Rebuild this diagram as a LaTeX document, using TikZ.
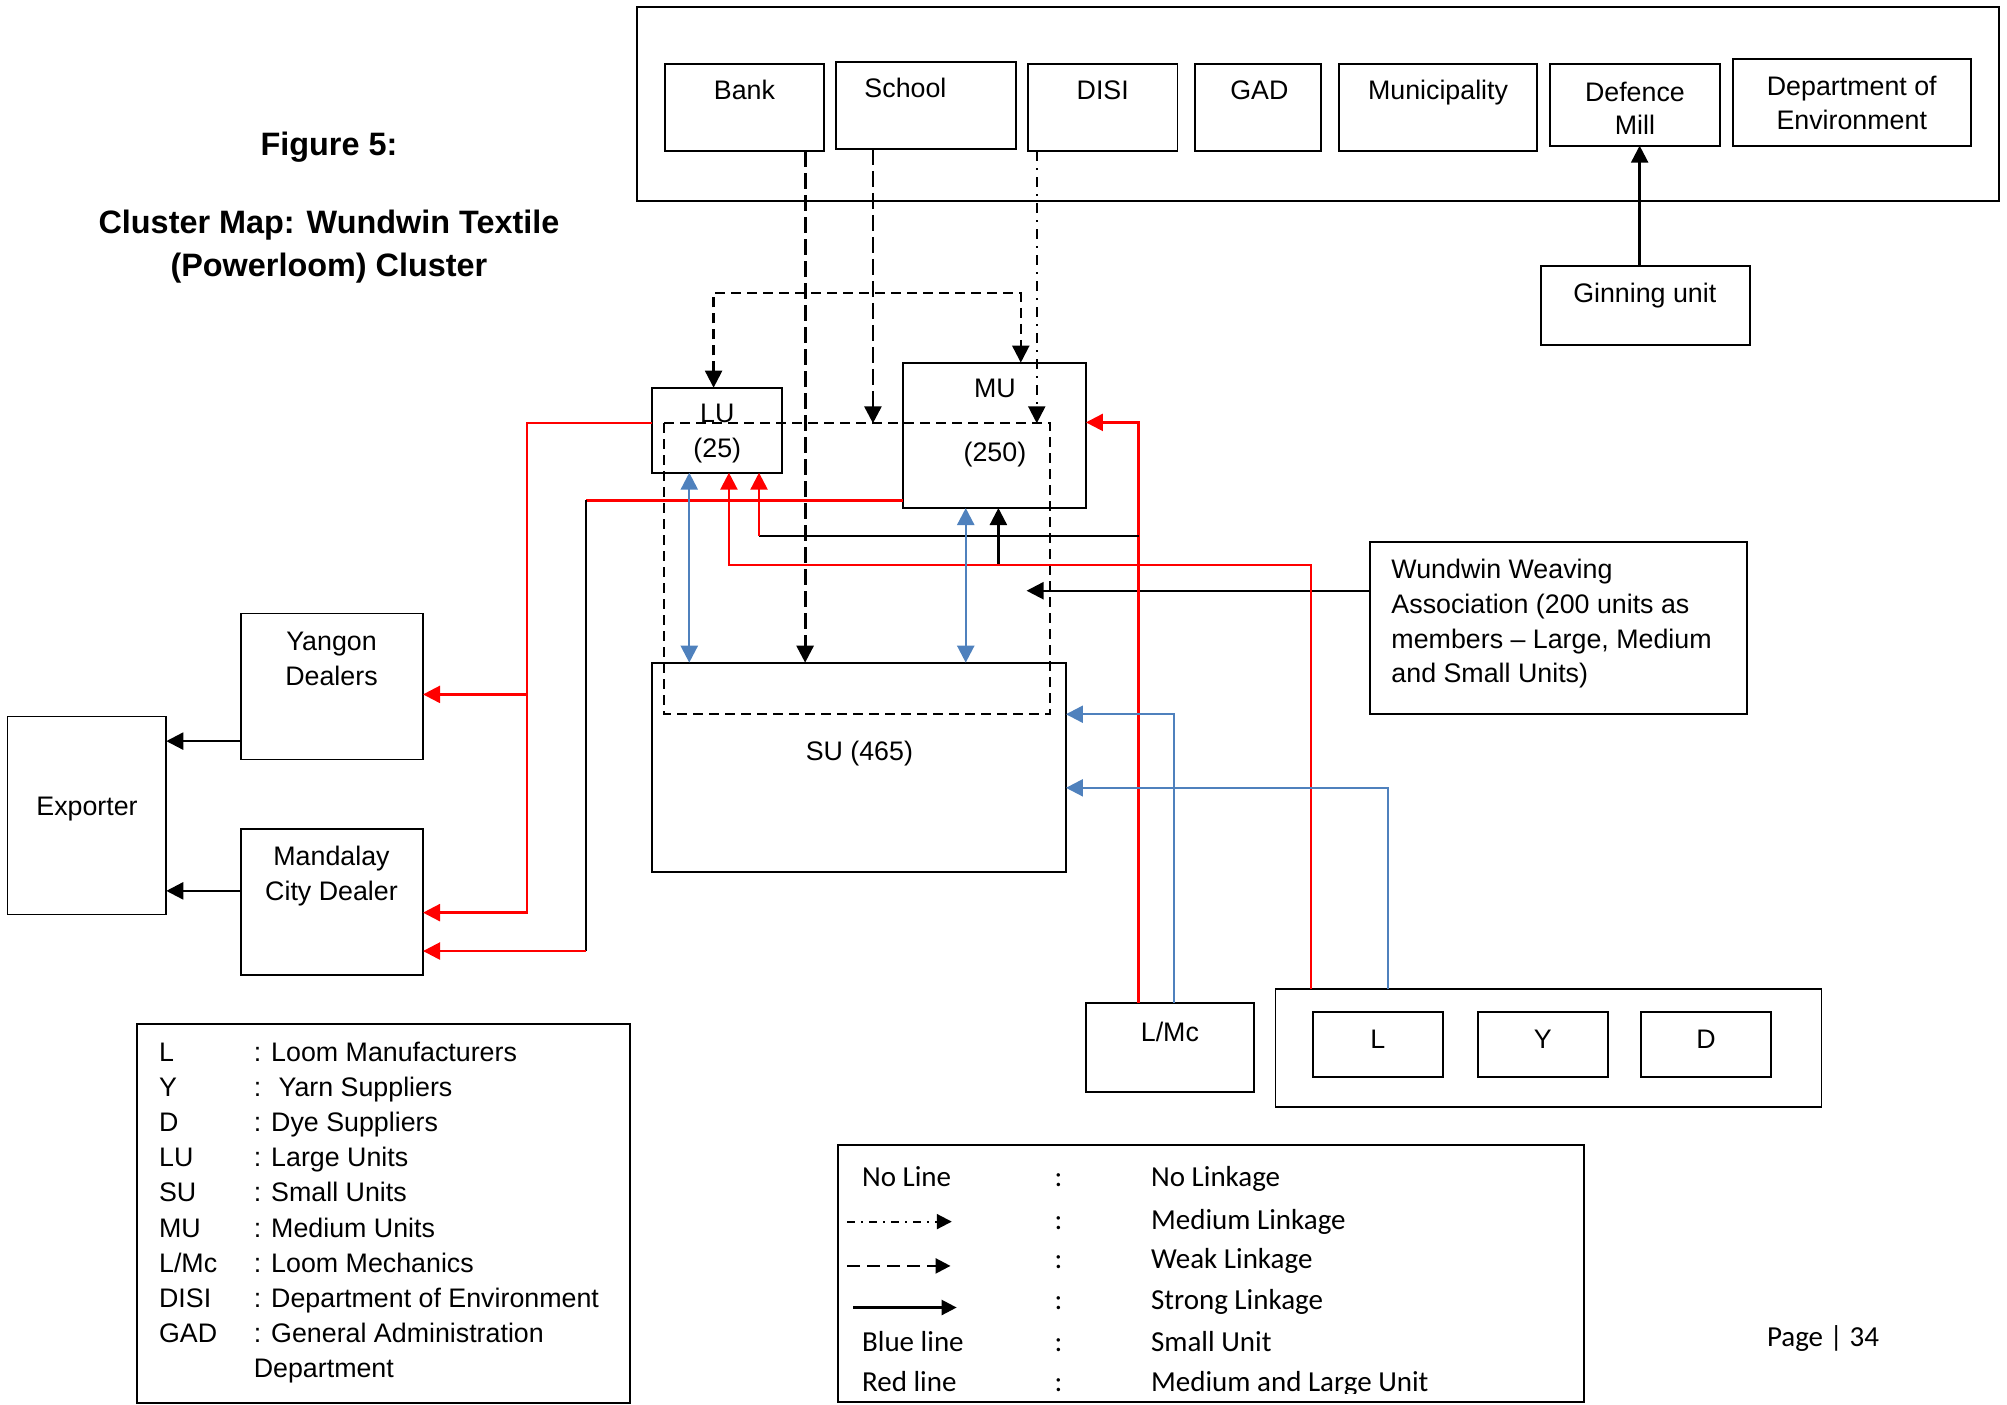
\documentclass[tikz,border=0pt]{standalone}
\usepackage{fontspec}
\setmainfont{Liberation Sans}
\newfontfamily\calibrifam{Carlito}
\usetikzlibrary{arrows.meta,fit}

\definecolor{wordblue}{RGB}{79,129,189}
\newcommand\fa{\fontsize{13.4pt}{16pt}\selectfont}
\newcommand\fc{\calibrifam\fontsize{14.5pt}{17pt}\selectfont}
\newcommand\ftitle{\bfseries\fontsize{16.2pt}{19pt}\selectfont}

\tikzset{
  box/.style={draw, line width=0.9pt, inner sep=0pt, outer sep=0pt},
  ta/.style={inner sep=0pt, text height=9.6pt, text depth=0pt, font=\fa},
  tc/.style={inner sep=0pt, text height=9.4pt, text depth=0pt, font=\fc},
  tt/.style={inner sep=0pt, text height=11.6pt, text depth=0pt, font=\ftitle},
  strong/.style={line width=1.2pt},
  thinblack/.style={line width=0.9pt},
  weak/.style={line width=1.4pt, dash pattern=on 8pt off 3pt},
  weakthin/.style={line width=1.1pt, dash pattern=on 5pt off 3pt},
  medium/.style={line width=1.1pt, dash pattern=on 5pt off 3.5pt on 1pt off 3.5pt},
  redl/.style={draw=red, line width=1.2pt},
  bluel/.style={draw=wordblue, line width=1.2pt},
}

\begin{document}
\begin{tikzpicture}[x=0.64pt, y=-0.64pt, >={Triangle[length=8.5pt,width=8.5pt]}]
\useasboundingbox (0,0) rectangle (1568,1097);

% ---------- title ----------
\node[tt] (title1) at (257,112.5) {Figure 5:};
\node[tt] (title2) at (257,173.5) {Cluster Map: Wundwin Textile};
\node[tt] (title3) at (257,207) {(Powerloom) Cluster};

% ---------- institutions ----------
\node[box, line width=1.1pt, fit={(497.7,5.2) (1562,157)}] (inst) {};
\node[box, fit={(519.7,50) (643.5,118)}] (bank) {};
\node[box, fit={(653.2,48.2) (793.5,116.4)}] (school) {};
\node[box, fit={(803,50) (920,118)}] (disi) {};
\node[box, fit={(933.7,50) (1032,118)}] (gad) {};
\node[box, fit={(1045.8,50) (1200.5,118)}] (muni) {};
\node[box, fit={(1210.9,50) (1343.6,113.8)}] (defence) {};
\node[box, fit={(1354,45.8) (1539.6,114)}] (doe) {};
\node[ta] (bank-t) at (581.6,70.3) {Bank};
\node[ta] (school-t) at (707.4,69) {School};
\node[ta] (disi-t) at (861.5,70.3) {DISI};
\node[ta] (gad-t) at (983.9,70.3) {GAD};
\node[ta] (muni-t) at (1123.5,70.3) {Municipality};
\node[ta] (defence-t1) at (1277.3,71.6) {Defence};
\node[ta] (defence-t2) at (1277.3,97.7) {Mill};
\node[ta] (doe-t1) at (1446.7,67.2) {Department of};
\node[ta] (doe-t2) at (1446.7,94) {Environment};

\node[box, fit={(1204,207.6) (1367,269.5)}] (ginning) {};
\node[ta] (ginning-t) at (1285,229.2) {Ginning unit};

% ---------- producing units ----------
\node[box, fit={(509.4,302.9) (611,369.3)}] (lu) {};
\node[box, fit={(705.7,283.3) (848.4,396.9)}] (mu) {};
\node[box, fit={(509.4,517.7) (832.8,681)}] (su) {};
\node[box, draw=none, fit={(519,330.7) (820.3,558)}] (dashbox) {};
\draw[weakthin] (dashbox.north west) rectangle (dashbox.south east);
\node[ta] (lu-t1) at (560.4,322.4) {LU};
\node[ta] (lu-t2) at (560.4,349.7) {(25)};
\node[ta] (mu-t1) at (777.3,303.4) {MU};
\node[ta] (mu-t2) at (777.3,352.9) {(250)};
\node[ta] (su-t) at (671.4,586.5) {SU (465)};

% ---------- association ----------
\node[box, fit={(1070.5,423.7) (1364.6,558)}] (wwa) {};
\node[ta, anchor=west] (wwa-t1) at (1086.8,444.8) {Wundwin Weaving};
\node[ta, anchor=west] (wwa-t2) at (1086.8,472) {Association (200 units as};
\node[ta, anchor=west] (wwa-t3) at (1086.8,499.5) {members -- Large, Medium};
\node[ta, anchor=west] (wwa-t4) at (1086.8,526) {and Small Units)};

% ---------- markets ----------
\node[box, fit={(188,479.3) (330.5,593.4)}] (yangon) {};
\node[box, fit={(188,647.5) (330.5,761.7)}] (mandalay) {};
\node[box, fit={(5.9,559.8) (129.9,714.5)}] (exporter) {};
\node[ta] (yangon-t1) at (259,501) {Yangon};
\node[ta] (yangon-t2) at (259,528) {Dealers};
\node[ta] (mandalay-t1) at (259,669) {Mandalay};
\node[ta] (mandalay-t2) at (259,696) {City Dealer};
\node[ta] (exporter-t) at (68,629.5) {Exporter};

% ---------- suppliers ----------
\node[box, fit={(848.2,783.9) (979.7,852.9)}] (lmc) {};
\node[ta] (lmc-t) at (914,806) {L/Mc};
\node[box, fit={(996.5,772.9) (1423,864.6)}] (lydbox) {};
\node[box, fit={(1025.6,790.4) (1127.3,841.2)}] (lbox) {};
\node[box, fit={(1154.4,790.4) (1256.4,841.2)}] (ybox) {};
\node[box, fit={(1281.9,790.4) (1383.9,841.2)}] (dbox) {};
\node[ta] (lbox-t) at (1076.5,812) {L};
\node[ta] (ybox-t) at (1205.4,812) {Y};
\node[ta] (dbox-t) at (1332.9,812) {D};

% ---------- routing points ----------
\coordinate (xBank) at (629,0);
\coordinate (xSchool) at (682,0);
\coordinate (xDisi) at (810,0);
\coordinate (brL) at (557.5,229);
\coordinate (brR) at (797.5,229);
\coordinate (xGin) at (1281,0);
\coordinate (rA) at (411.5,330.5);
\coordinate (rB) at (411.5,713);
\coordinate (rC) at (411.5,542.5);
\coordinate (mA) at (458,391);
\coordinate (mB) at (458,743);
\coordinate (rD) at (889.5,330);
\coordinate (rE) at (1024,441.5);
\coordinate (rF) at (569.5,441.5);
\coordinate (kG) at (889.5,418.5);
\coordinate (kH) at (593,418.5);
\coordinate (kS) at (780,441.5);
\coordinate (kW) at (802,461.5);
\coordinate (b1) at (538.5,0);
\coordinate (b2) at (754.5,0);
\coordinate (b3) at (917,558);
\coordinate (b4) at (1084.5,615.5);
\coordinate (yY) at (0,579);
\coordinate (yM) at (0,696);

% ---------- weak and medium linkages ----------
\draw[weak,->] (bank.south -| xBank) -- (su.north -| xBank);
\draw[weak,->] (school.south -| xSchool) -- (dashbox.north -| xSchool);
\draw[medium,->] (disi.south -| xDisi) -- (dashbox.north -| xDisi);
\draw[weakthin,<->] (lu.north -| brL) -- (brL) -- (brR) -- (mu.north -| brR);

% ---------- strong linkages ----------
\draw[strong,->] (ginning.north -| xGin) -- (defence.south -| xGin);
\draw[strong,->] (wwa.west |- kW) -- (kW);
\draw[strong,->] (kS) -- (mu.south -| kS);
\draw[strong,->] (yangon.west |- yY) -- (exporter.east |- yY);
\draw[strong,->] (mandalay.west |- yM) -- (exporter.east |- yM);

% ---------- medium and large units (red) ----------
\draw[redl,->] (lu.west |- rA) -- (rA) -- (rB) -- (mandalay.east |- rB);
\draw[redl,->] (rC) -- (yangon.east |- rC);
\draw[redl] (mu.west |- mA) -- (mA);
\draw[thinblack] (mA) -- (mB);
\draw[redl,->] (mB) -- (mandalay.east |- mB);
\draw[redl,->] (lmc.north -| rD) -- (rD) -- (mu.east |- rD);
\draw[redl,->] (lydbox.north -| rE) -- (rE) -- (rF) -- (lu.south -| rF);
\draw[thinblack] (kG) -- (kH);
\draw[redl,->] (kH) -- (lu.south -| kH);

% ---------- small units (blue) ----------
\draw[bluel,<->] (lu.south -| b1) -- (su.north -| b1);
\draw[bluel,<->] (mu.south -| b2) -- (su.north -| b2);
\draw[bluel,->] (lmc.north -| b3) -- (b3) -- (su.east |- b3);
\draw[bluel,->] (lydbox.north -| b4) -- (b4) -- (su.east |- b4);

% ---------- abbreviations ----------
\node[box, fit={(106.8,800) (492,1095.9)}] (legL) {};
\foreach \k/\ab/\desc in {0/L/: Loom Manufacturers, 1/Y/: ~Yarn Suppliers,
    2/D/: Dye Suppliers, 3/LU/: Large Units, 4/SU/: Small Units,
    5/MU/: Medium Units, 6/L\slash Mc/: Loom Mechanics,
    7/DISI/: Department of Environment, 8/GAD/: General Administration}{
  \node[ta, anchor=west] (ab\k) at (124,821.5+27.5*\k) {\ab};
  \node[ta, anchor=west] (de\k) at (198,821.5+27.5*\k) {\desc};
}
\node[ta, anchor=west] (de9) at (198,1069) {Department};

% ---------- line key ----------
\node[box, fit={(655,894.5) (1237.5,1095.5)}] (legR) {};
\begin{scope}
\clip (655,894.5) rectangle (1237.5,1089);
\foreach \k/\yy/\lft/\desc in {0/919.8/No Line/No Linkage, 1/953/{}/Medium Linkage,
    2/984/{}/Weak Linkage, 3/1015.6/{}/Strong Linkage, 4/1048.2/Blue line/Small Unit,
    5/1079.4/Red line/Medium and Large Unit}{
  \node[tc, anchor=west] (kl\k) at (673.2,\yy) {\lft};
  \node[tc] (kc\k) at (827,\yy) {:};
  \node[tc, anchor=west] (kd\k) at (899,\yy) {\desc};
}
\end{scope}
\coordinate (lg1a) at (662,954.4);
\coordinate (lg1b) at (743.6,954.4);
\coordinate (lg2a) at (662,989);
\coordinate (lg2b) at (742.6,989);
\coordinate (lg3a) at (666.7,1021.5);
\coordinate (lg3b) at (747.4,1021.5);
\draw[line width=1pt, dash pattern=on 4pt off 3pt on 1pt off 3pt, -{Triangle[length=7.5pt,width=7.5pt]}] (lg1a) -- (lg1b);
\draw[line width=1.2pt, dash pattern=on 6.5pt off 3.5pt, -{Triangle[length=7.5pt,width=7.5pt]}] (lg2a) -- (lg2b);
\draw[line width=1.2pt, -{Triangle[length=7.5pt,width=7.5pt]}] (lg3a) -- (lg3b);

% ---------- page number ----------
\node[tc, anchor=west] (page) at (1380.2,1044.8) {Page | 34};
\end{tikzpicture}
\end{document}
